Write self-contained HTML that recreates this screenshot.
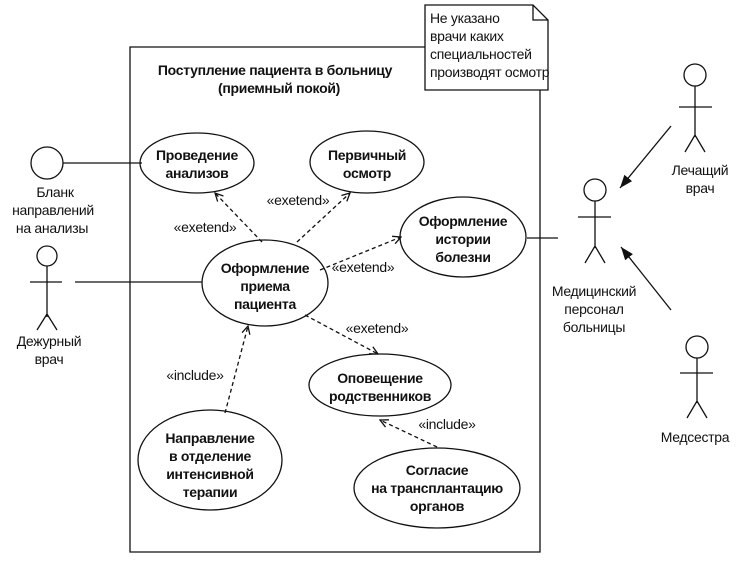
<!DOCTYPE html>
<html><head><meta charset="utf-8"><style>
html,body{margin:0;padding:0;background:#fff}
svg text{font-family:"Liberation Sans",sans-serif;font-size:14px;fill:#111;letter-spacing:-0.3px}
.b{font-weight:bold}
.n{font-size:13.5px;letter-spacing:-0.5px}
</style></head><body>
<svg width="743" height="564" viewBox="0 0 743 564" xmlns="http://www.w3.org/2000/svg">
<defs>
<marker id="a" markerWidth="10" markerHeight="10" refX="9" refY="5" orient="auto" markerUnits="userSpaceOnUse"><path d="M1,1 L9,5 L1,9" fill="none" stroke="#111" stroke-width="1.3"/></marker>
<marker id="f" markerWidth="14" markerHeight="12" refX="13" refY="6" orient="auto" markerUnits="userSpaceOnUse"><path d="M0,1 L13,6 L0,11 Z" fill="#111"/></marker>
</defs>
<g stroke="#111" stroke-width="1.3" fill="none">
<path d="M425,47 L130,47 L130,552 L540,552 L540,90"/>
<path d="M425,5 L533,5 L548,20 L548,90 L425,90 Z M533,5 L533,20 L548,20"/>
<ellipse cx="197" cy="163" rx="57" ry="30"/>
<ellipse cx="367" cy="162" rx="57" ry="31"/>
<ellipse cx="463" cy="237" rx="63" ry="40"/>
<ellipse cx="265" cy="283" rx="63" ry="43"/>
<ellipse cx="380" cy="385" rx="71" ry="31"/>
<ellipse cx="210" cy="460" rx="72" ry="50"/>
<ellipse cx="437" cy="488" rx="83" ry="40"/>
<circle cx="47" cy="163" r="16"/>
<line x1="63" y1="163" x2="142" y2="163"/>
<circle cx="47" cy="256" r="10"/>
<path d="M47,266 L47,317 M30,282 L62,282 M37,330 L47,314 L57,330"/>
<line x1="75" y1="282" x2="202" y2="282"/>
<circle cx="595" cy="190" r="11"/>
<path d="M595,201 L595,248 M578,217 L611,217 M585,263 L595,246 L605,263"/>
<line x1="527" y1="238" x2="558" y2="238"/>
<circle cx="695" cy="75" r="11"/>
<path d="M695,86 L695,137 M679,107 L712,107 M685,152 L695,135 L705,152"/>
<circle cx="697" cy="347" r="11"/>
<path d="M697,358 L697,403 M680,373 L713,373 M687,418 L697,401 L707,418"/>
<line x1="671" y1="126" x2="620" y2="188" marker-end="url(#f)"/>
<line x1="671" y1="310" x2="621" y2="247" marker-end="url(#f)"/>
<g stroke-dasharray="4,3">
<line x1="262" y1="242" x2="215" y2="193" marker-end="url(#a)"/>
<line x1="297" y1="242" x2="350" y2="193" marker-end="url(#a)"/>
<line x1="320" y1="270" x2="401" y2="237" marker-end="url(#a)"/>
<line x1="305" y1="315" x2="378" y2="354" marker-end="url(#a)"/>
<line x1="225" y1="413" x2="248" y2="326" marker-end="url(#a)"/>
<line x1="437" y1="447" x2="380" y2="420" marker-end="url(#a)"/>
</g>
</g>
<g class="n">
<text x="430" y="23">Не указано</text>
<text x="430" y="41">врачи каких</text>
<text x="430" y="59">специальностей</text>
<text x="430" y="77">производят осмотр</text>
</g>
<g class="b" text-anchor="middle">
<text x="275" y="75">Поступление пациента в больницу</text>
<text x="279" y="93">(приемный покой)</text>
<text x="197" y="160">Проведение</text><text x="197" y="178">анализов</text>
<text x="367" y="160">Первичный</text><text x="367" y="178">осмотр</text>
<text x="463" y="226">Оформление</text><text x="463" y="244">истории</text><text x="463" y="262">болезни</text>
<text x="265" y="273">Оформление</text><text x="265" y="291">приема</text><text x="265" y="309">пациента</text>
<text x="380" y="383">Оповещение</text><text x="380" y="401">родственников</text>
<text x="210" y="443">Направление</text><text x="210" y="461">в отделение</text><text x="210" y="479">интенсивной</text><text x="210" y="497">терапии</text>
<text x="437" y="475">Согласие</text><text x="437" y="493">на трансплантацию</text><text x="437" y="511">органов</text>
</g>
<g text-anchor="middle">
<text x="55" y="197">Бланк</text><text x="53" y="215">направлений</text><text x="52" y="233">на анализы</text>
<text x="49" y="346">Дежурный</text><text x="49" y="364">врач</text>
<text x="594" y="296">Медицинский</text><text x="594" y="314">персонал</text><text x="594" y="332">больницы</text>
<text x="700" y="175">Лечащий</text><text x="700" y="193">врач</text>
<text x="695" y="442">Медсестра</text>
<text x="205" y="232">«exetend»</text>
<text x="298" y="205">«exetend»</text>
<text x="363" y="272">«exetend»</text>
<text x="377" y="333">«exetend»</text>
<text x="195" y="380">«include»</text>
<text x="447" y="429">«include»</text>
</g>
</svg>
</body></html>
